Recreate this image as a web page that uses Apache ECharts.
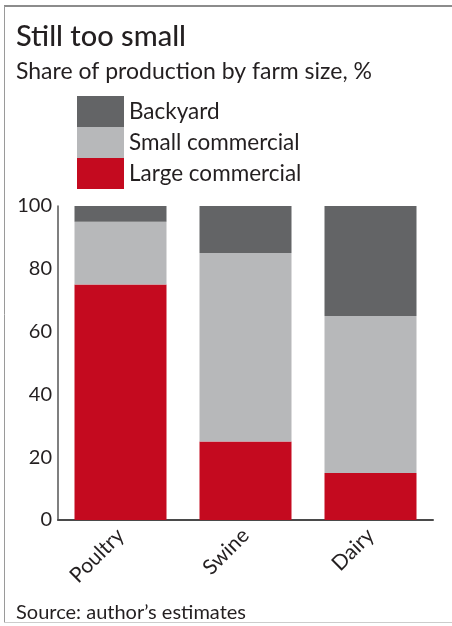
<!DOCTYPE html>
<html>
<head>
<meta charset="utf-8">
<script src="https://cdn.jsdelivr.net/npm/echarts@6/dist/echarts.min.js"></script>
<style>
html,body{margin:0;padding:0;background:#fff;}
#chart{width:452px;height:626px;}
</style>
</head>
<body>
<div id="chart"></div>
<script>
var categories = ['Poultry', 'Swine', 'Dairy'];
var largeCommercial = [75, 25, 15];
var smallCommercial = [20, 60, 50];
var backyard = [5, 15, 35];
var yTicks = [0, 20, 40, 60, 80, 100];

var FONT = 'Lato';
var TXT = '#231f20';

var chart = echarts.init(document.getElementById('chart'));
chart.setOption({
  animation: false,
  backgroundColor: '#ffffff',
  textStyle: { fontFamily: FONT },
  title: [
    { text: 'Still too small', left: 11, top: 17, padding: [5, 5, 5, 5],
      textStyle: { fontFamily: FONT, fontSize: 29, fontWeight: 500, color: TXT } },
    { text: 'Share of production by farm size, %', left: 11, top: 55,
      textStyle: { fontFamily: FONT, fontSize: 23, fontWeight: 'normal', color: TXT } },
    { text: 'Source: author\u2019s estimates', left: 11, top: 598,
      textStyle: { fontFamily: FONT, fontSize: 20, fontWeight: 'normal', color: TXT } }
  ],
  legend: {
    orient: 'vertical', left: 77, top: 96, padding: 0,
    itemWidth: 47, itemHeight: 31, itemGap: 0,
    icon: 'rect',
    data: ['Backyard', 'Small commercial', 'Large commercial'],
    textStyle: { fontFamily: FONT, fontSize: 22.5, color: TXT }
  },
  grid: { left: 58, right: 19, top: 206, bottom: 106, containLabel: false },
  xAxis: {
    type: 'category', data: categories,
    axisLine: { show: true, lineStyle: { color: '#4a4a4a', width: 2 } },
    axisTick: { show: false },
    axisLabel: { rotate: 45, margin: 12, fontFamily: FONT, fontSize: 21, color: TXT, interval: 0 }
  },
  yAxis: {
    type: 'value', min: 0, max: 100, interval: 20,
    axisLine: { show: true, lineStyle: { color: '#555555', width: 1.5 } },
    axisTick: { show: false },
    splitLine: { show: false },
    axisLabel: { margin: 6, fontFamily: FONT, fontSize: 20, color: TXT,
      formatter: function (v) { return yTicks.indexOf(v) >= 0 ? String(v) : ''; } }
  },
  series: [
    { name: 'Large commercial', type: 'bar', stack: 'a', barWidth: 92, data: largeCommercial,
      itemStyle: { color: '#c40a1f' } },
    { name: 'Small commercial', type: 'bar', stack: 'a', barWidth: 92, data: smallCommercial,
      itemStyle: { color: '#b7b8ba' } },
    { name: 'Backyard', type: 'bar', stack: 'a', barWidth: 92, data: backyard,
      itemStyle: { color: '#636466' } }
  ],
  graphic: [
    { type: 'line', shape: { x1: 4, y1: 6, x2: 452, y2: 6 }, style: { stroke: '#8c8c8c', lineWidth: 2 }, silent: true },
    { type: 'line', shape: { x1: 4.5, y1: 6, x2: 4.5, y2: 623 }, style: { stroke: '#9a9a9a', lineWidth: 1 }, silent: true },
    { type: 'line', shape: { x1: 4, y1: 622.5, x2: 452, y2: 622.5 }, style: { stroke: '#cccccc', lineWidth: 1 }, silent: true }
  ]
});
</script>
</body>
</html>
